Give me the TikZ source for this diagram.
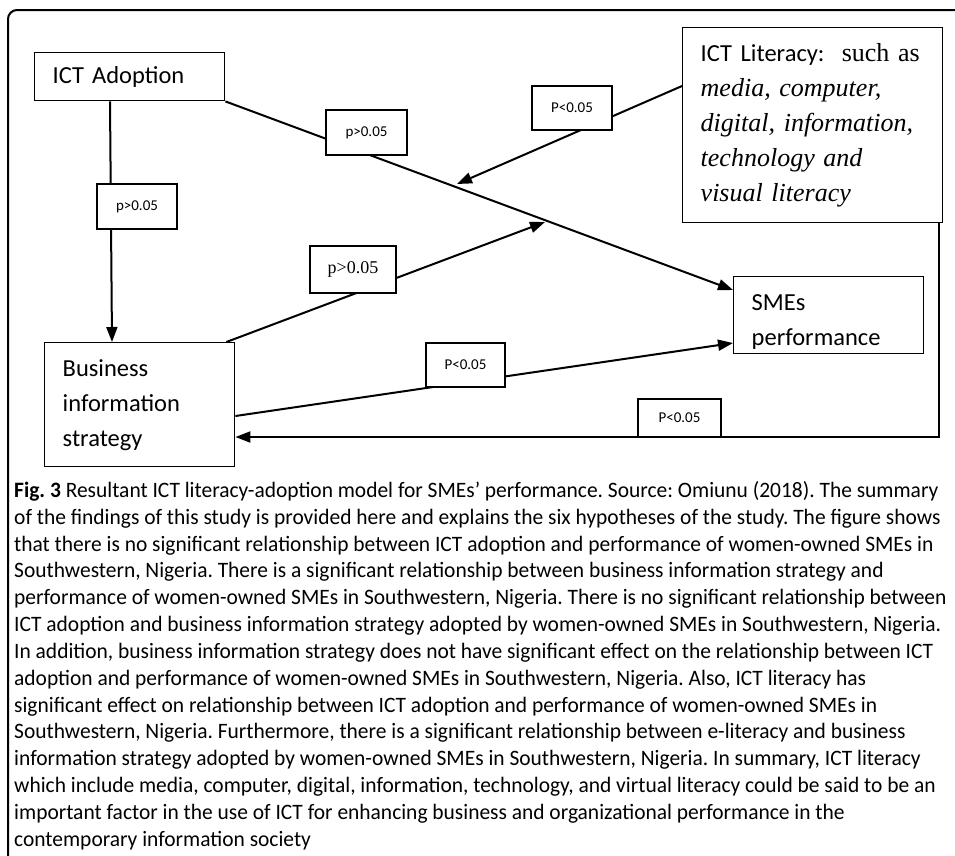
\documentclass[tikz,border=0pt]{standalone}
\usepackage{fontspec}
\setmainfont{Liberation Serif}
\newfontfamily\calib{Carlito}
\newfontfamily\capf[FakeStretch=0.975]{Carlito}
\usetikzlibrary{arrows.meta,calc}
\begin{document}
\begin{tikzpicture}[x=1pt,y=-1pt,
  box/.style={draw,line width=1.4pt,inner sep=0pt,anchor=north west,align=left},
  lbl/.style={draw,fill=white,line width=1.4pt,inner sep=0pt,font=\calib\fontsize{15}{15}\selectfont},
  conn/.style={line width=2pt},
  arr/.style={conn,-{Triangle[length=15pt,width=11pt]}}]
\useasboundingbox (0,0) rectangle (955,855);
% outer frame
\draw[line width=2pt,rounded corners=9pt] (8,860) -- (8,10) -- (960,10);

% boxes
\node[box,minimum width=190,minimum height=48,text width=154,font=\calib\fontsize{24.5}{35}\selectfont] (ado) at (34,52) {ICT Adoption};
\node[box,minimum width=190,minimum height=124,text width=154,font=\calib\fontsize{24.5}{35}\selectfont] (biz) at (44,342) {Business\\information\\strategy};
\node[box,minimum width=190,minimum height=77,text width=154,font=\calib\fontsize{24.5}{35}\selectfont] (smes) at (733,276) {\rule{0pt}{30pt}SMEs\\performance};
\node[box,minimum width=260,minimum height=195,text width=224,font=\fontsize{26}{35}\selectfont] (lit) at (682,27)
  {{\calib\fontsize{24.5}{35}\selectfont ICT Literacy:}\ \ such as\\
   \textit{media, computer,}\\
   \textit{digital, information,}\\
   \textit{technology and}\\
   \textit{visual literacy}};

% moderation targets
\coordinate (m1) at (457,184);
\coordinate (m2) at (545,222);

% connectors
\draw[arr] ($(ado.south west)+(76,0)$) -- ($(biz.north west)+(68,0)$);
\draw[arr] (ado.south east) -- ($(smes.north west)+(0,14)$);
\draw[arr] ($(lit.north west)+(0,59)$) -- (m1);
\draw[arr] ($(biz.north east)+(-9,0)$) -- (m2);
\draw[arr] ($(biz.north east)+(0,74)$) -- ($(smes.north west)+(0,67)$);
\draw[arr] ($(lit.south east)+(-4,0)$) |- ($(biz.north east)+(0,95)$);

% labels
\node[lbl,minimum width=80,minimum height=45] (l1) at (137,206.5) {p>0.05};
\node[lbl,minimum width=81,minimum height=45] (l2) at (366.5,132.5) {p>0.05};
\node[lbl,minimum width=80,minimum height=44] (l3) at (572,108) {P<0.05};
\node[lbl,minimum width=86,minimum height=47,font=\fontsize{18}{18}\selectfont] (l4) at (353,269.5) {p>0.05};
\node[lbl,minimum width=79,minimum height=44] (l5) at (465.5,365) {P<0.05};
\node[lbl,minimum width=83,minimum height=38] (l6) at (679.5,418) {P<0.05};

% caption
\node[anchor=north west,inner sep=0pt,align=left,font=\capf\fontsize{22}{26.85}\selectfont\frenchspacing] (cap) at (14,481) {%
\textbf{Fig. 3} Resultant ICT literacy-adoption model for SMEs’ performance. Source: Omiunu (2018). The summary\\
of the findings of this study is provided here and explains the six hypotheses of the study. The figure shows\\
that there is no significant relationship between ICT adoption and performance of women-owned SMEs in\\
Southwestern, Nigeria. There is a significant relationship between business information strategy and\\
performance of women-owned SMEs in Southwestern, Nigeria. There is no significant relationship between\\
ICT adoption and business information strategy adopted by women-owned SMEs in Southwestern, Nigeria.\\
In addition, business information strategy does not have significant effect on the relationship between ICT\\
adoption and performance of women-owned SMEs in Southwestern, Nigeria. Also, ICT literacy has\\
significant effect on relationship between ICT adoption and performance of women-owned SMEs in\\
Southwestern, Nigeria. Furthermore, there is a significant relationship between e-literacy and business\\
information strategy adopted by women-owned SMEs in Southwestern, Nigeria. In summary, ICT literacy\\
which include media, computer, digital, information, technology, and virtual literacy could be said to be an\\
important factor in the use of ICT for enhancing business and organizational performance in the\\
contemporary information society};
\end{tikzpicture}
\end{document}
